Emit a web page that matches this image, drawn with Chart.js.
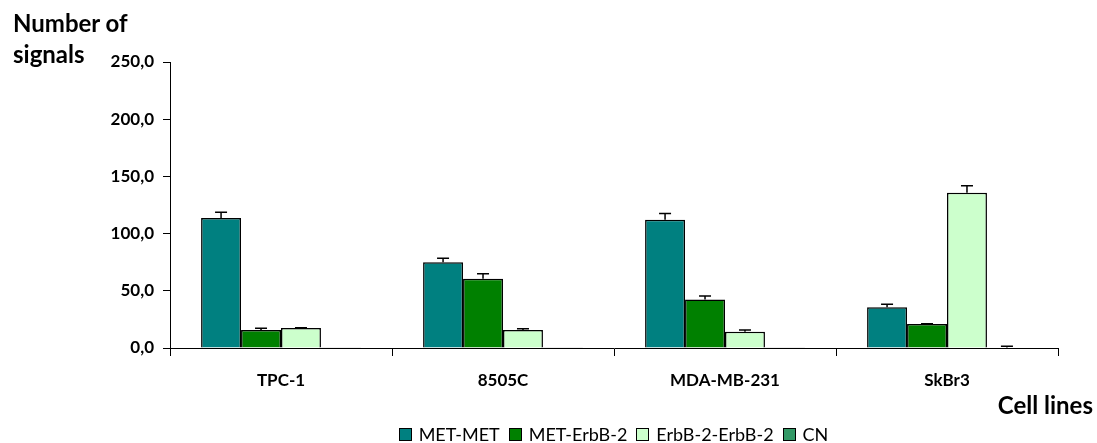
<!DOCTYPE html>
<html>
<head>
<meta charset="utf-8">
<script src="https://cdn.jsdelivr.net/npm/chart.js@4/dist/chart.umd.min.js"></script>
<style>
  html, body { margin: 0; padding: 0; background: #fff; }
  #wrap { position: relative; width: 1097px; height: 443px; overflow: hidden; font-family: Lato, "Open Sans", sans-serif; color: #000; }
  #chart { position: absolute; left: 0; top: 0; }
  .title { position: absolute; font-weight: bold; font-size: 24px; line-height: 31px; white-space: nowrap; }
  #ytitle { left: 13px; top: 7px; }
  #xtitle { right: 4px; top: 389px; }
  #legend { position: absolute; left: 170px; right: 39px; top: 424px; display: flex; justify-content: center; font-size: 18px; line-height: 20px; }
  #legend .item { display: flex; align-items: center; margin: 0 5px 0 4px; }
  #legend .box { width: 11px; height: 11px; border: 1px solid #000; margin-right: 7px; }
</style>
</head>
<body>
<div id="wrap">
  <canvas id="chart" width="1097" height="443"></canvas>
  <div class="title" id="ytitle">Number of<br>signals</div>
  <div class="title" id="xtitle">Cell lines</div>
  <div id="legend"></div>
</div>
<script>
// categories and series
const cellLines = ['TPC-1', '8505C', 'MDA-MB-231', 'SkBr3'];
const seriesNames = ['MET-MET', 'MET-ErbB-2', 'ErbB-2-ErbB-2', 'CN'];
const yTicks = [0, 50, 100, 150, 200, 250];

const metMet = [113.6, 75.0, 112.0, 35.6];
const metErbB2 = [15.7, 60.6, 42.5, 21.0];
const erbErb = [17.5, 15.7, 14.3, 135.8];
const cn = [0.3, 0.3, 0.3, 0.5];

// upper error bars (SD)
const metMetErr = [5.0, 3.5, 5.5, 2.6];
const metErbB2Err = [1.5, 4.4, 2.9, 0.3];
const erbErbErr = [0.3, 1.2, 1.5, 6.1];
const cnErr = [0, 0, 0, 1.0];

const seriesColors = ['#008080', '#008000', '#CCFFCC', '#339966'];
const FONT = 'Lato, "Open Sans", sans-serif';

// upper error bar with cap on each bar
const errorBars = {
  id: 'errorBars',
  afterDatasetsDraw(chart) {
    const ctx = chart.ctx;
    const y = chart.scales.y;
    ctx.save();
    ctx.strokeStyle = '#000';
    ctx.lineWidth = 1.5;
    chart.data.datasets.forEach((ds, di) => {
      chart.getDatasetMeta(di).data.forEach((bar, i) => {
        const e = ds.err[i];
        if (!e) return;
        const top = y.getPixelForValue(ds.data[i] + e);
        ctx.beginPath();
        ctx.moveTo(bar.x, bar.y);
        ctx.lineTo(bar.x, top);
        ctx.moveTo(bar.x - 6, top);
        ctx.lineTo(bar.x + 6, top);
        ctx.stroke();
      });
    });
    ctx.restore();
  }
};

const values = [metMet, metErbB2, erbErb, cn];
const errs = [metMetErr, metErbB2Err, erbErbErr, cnErr];

const chart = new Chart(document.getElementById('chart'), {
  type: 'bar',
  data: {
    labels: cellLines,
    datasets: seriesNames.map((name, i) => ({
      label: name,
      data: values[i],
      err: errs[i],
      backgroundColor: seriesColors[i],
      borderColor: '#000',
      borderWidth: 1.5,
      borderSkipped: 'bottom'
    }))
  },
  options: {
    responsive: false,
    animation: false,
    datasets: { bar: { categoryPercentage: 0.72, barPercentage: 1 } },
    layout: { padding: { top: 62, right: 39, left: 0, bottom: 0 } },
    plugins: { legend: { display: false }, tooltip: { enabled: false } },
    scales: {
      x: {
        afterFit(s) { s.height = 95; },
        border: { color: '#000', width: 1 },
        grid: { display: true, offset: true, drawOnChartArea: false, tickLength: 8, color: '#000' },
        ticks: { color: '#000', padding: 14, font: { family: FONT, size: 17, weight: 'bold' } }
      },
      y: {
        min: 0, max: 250,
        afterFit(s) { s.width = 170; },
        afterBuildTicks(s) { s.ticks = yTicks.map(v => ({ value: v })); },
        border: { color: '#000', width: 1 },
        grid: { display: true, drawOnChartArea: false, tickLength: 7, color: '#000' },
        ticks: {
          color: '#000', padding: 9,
          font: { family: FONT, size: 17, weight: 'bold' },
          callback: v => v.toFixed(1).replace('.', ',')
        }
      }
    }
  },
  plugins: [errorBars]
});

// legend built from the chart's datasets
document.getElementById('legend').innerHTML = chart.data.datasets.map(ds =>
  `<span class="item"><span class="box" style="background:${ds.backgroundColor}"></span>${ds.label}</span>`).join('');
</script>
</body>
</html>
